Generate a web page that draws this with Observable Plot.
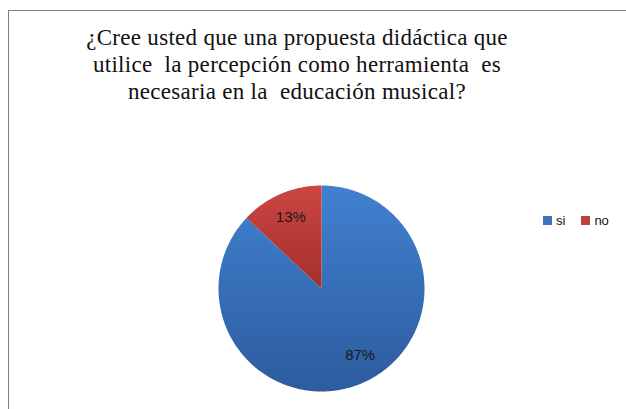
<!DOCTYPE html>
<html>
<head>
<meta charset="utf-8">
<script src="https://cdn.jsdelivr.net/npm/d3@7"></script>
<script src="https://cdn.jsdelivr.net/npm/@observablehq/plot@0.6"></script>
<style>
  html, body { margin: 0; padding: 0; background: #fff; }
  #frame { position: relative; width: 626px; height: 409px; overflow: hidden; background: #fff; }
  #border { position: absolute; left: 8px; top: 10px; width: 700px; height: 500px;
            border-top: 1px solid #7f7f7f; border-left: 1px solid #7f7f7f; }
  #title { position: absolute; left: 47px; top: 24px; width: 500px; text-align: center;
           font-family: "Liberation Serif", "DejaVu Serif", "Noto Serif", "Times New Roman", Times, serif; font-size: 23px;
           letter-spacing: 0.3px; line-height: 27px; color: #111; white-space: nowrap; }
  #pie { position: absolute; left: 217.7px; top: 184.8px; }
  #pie svg { overflow: visible; }
  #legend { position: absolute; left: 543px; top: 213px; font-family: "Liberation Sans", Arial, sans-serif;
            font-size: 13px; color: #111; display: flex; }
  .item { display: flex; align-items: center; margin-right: 16px; }
  .sw { width: 9px; height: 9px; margin-right: 4px; }
</style>
</head>
<body>
<div id="frame">
  <div id="border"></div>
  <div id="title">¿Cree usted que una propuesta didáctica que<br>utilice&nbsp; la percepción como herramienta&nbsp; es<br>necesaria en la&nbsp; educación musical?</div>
  <div id="pie"></div>
  <div id="legend"></div>
</div>
<script>
const categories = ["si", "no"];
const values = [87, 13];
const colorTop = ["#4181d0", "#cc4643"];
const colorBottom = ["#2d5b9e", "#a22f2c"];
const legendColors = ["#3b73bd", "#c0403d"];

const arcs = d3.pie().sort(null).value(d => d.value)(
  categories.map((c, i) => ({cat: c, value: values[i]}))
);

const pts = [];
for (const a of arcs) {
  pts.push({cat: a.data.cat, x: 0, y: 0});
  const n = Math.max(2, Math.ceil((a.endAngle - a.startAngle) / (Math.PI / 360)));
  for (let k = 0; k <= n; k++) {
    const t = a.startAngle + (a.endAngle - a.startAngle) * k / n;
    pts.push({cat: a.data.cat, x: Math.sin(t), y: Math.cos(t)});
  }
  pts.push({cat: a.data.cat, x: 0, y: 0});
}

const labels = arcs.map(a => {
  const m = (a.startAngle + a.endAngle) / 2;
  return {cat: a.data.cat, x: 0.75 * Math.sin(m), y: 0.75 * Math.cos(m), text: a.data.value + "%"};
});

const defs = () => {
  const d = d3.create("svg:defs");
  categories.forEach((c, i) => {
    const g = d.append("linearGradient").attr("id", "g-" + c)
      .attr("x1", 0).attr("y1", 0).attr("x2", 0).attr("y2", 1);
    g.append("stop").attr("offset", "0%").attr("stop-color", colorTop[i]);
    g.append("stop").attr("offset", "100%").attr("stop-color", colorBottom[i]);
  });
  return d.node();
};

const R = 103;
const chart = Plot.plot({
  width: 2 * R, height: 2 * R, margin: 0,
  x: {domain: [-1, 1], axis: null},
  y: {domain: [-1, 1], axis: null},
  color: {domain: categories, range: categories.map(c => `url(#g-${c})`)},
  marks: [
    defs,
    Plot.line(pts, {x: "x", y: "y", z: "cat", fill: "cat", stroke: "none"}),
    Plot.text(labels.filter(d => d.cat === "no"), {x: "x", y: "y", text: "text",
      fontSize: 15, fill: "#1a1a1a", fontFamily: "Liberation Sans, Arial, sans-serif"}),
    Plot.text(labels.filter(d => d.cat === "si"), {x: "x", y: "y", text: "text", dx: 8, dy: -4,
      fontSize: 15, fill: "#1a1a1a", fontFamily: "Liberation Sans, Arial, sans-serif"})
  ]
});
document.getElementById("pie").appendChild(chart);

const lg = document.getElementById("legend");
categories.forEach((c, i) => {
  const it = document.createElement("div"); it.className = "item";
  const sw = document.createElement("div"); sw.className = "sw"; sw.style.background = legendColors[i];
  const tx = document.createElement("span"); tx.textContent = c;
  it.appendChild(sw); it.appendChild(tx); lg.appendChild(it);
});
</script>
</body>
</html>
